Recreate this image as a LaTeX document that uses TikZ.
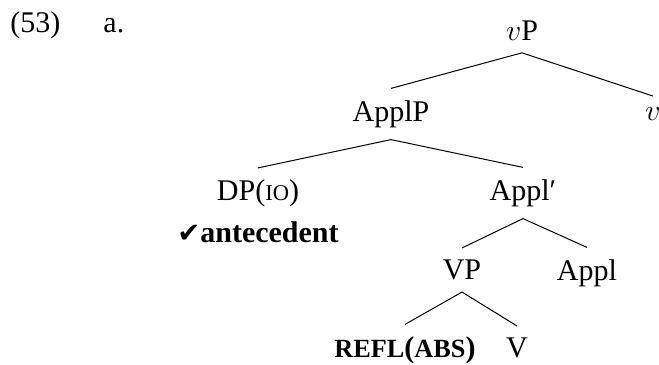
\documentclass[tikz,border=0pt]{standalone}
\usepackage{fontspec}
\setmainfont{Liberation Serif}
\newfontfamily\checkfont{DejaVu Sans}
\usetikzlibrary{positioning}
\newcommand{\fakesc}[1]{{\fontsize{9pt}{9pt}\selectfont #1}}
\newcommand{\fakescbf}[1]{{\fontsize{10.5pt}{10.5pt}\selectfont\bfseries #1}}
\tikzstyle{treenode} = [inner sep=4.6pt, font=\fontsize{12pt}{14pt}\selectfont]
\tikzstyle{exlabel} = [anchor=base west, inner sep=0pt, font=\fontsize{12pt}{14pt}\selectfont]
\tikzstyle{branch} = [line width=0.4pt]

\begin{document}
\begin{tikzpicture}[node distance=32pt]
	\useasboundingbox (0,0) rectangle (263.6pt,-145.6pt);

	\node (exnum) [exlabel] at (4pt,-12.8pt) {(53)};
	\node (exsub) [exlabel] at (41.2pt,-12.8pt) {a.};

	\node (vp) [treenode] at (208.8pt,-12.4pt) {$v$P};

	\node (applp) [treenode, below of=vp, xshift=-52.4pt, yshift=-1.2pt] {ApplP};
	\node (vhead) [treenode, below of=vp, xshift=52.4pt, yshift=-1.4pt] {$v$};

	\draw [branch] (vp.south) -- (applp.north);
	\draw [branch] (vp.south) -- (vhead.north);

	\node (dp) [treenode, below of=applp, xshift=-53.2pt, yshift=0.2pt] {DP(\fakesc{IO})};
	\node (applbar) [treenode, below of=applp, xshift=52.8pt, yshift=0.4pt] {Appl′};
	\node (ant) [treenode, below of=dp, yshift=16.6pt] {{\checkfont\fontsize{11pt}{11pt}\selectfont ✔}\textbf{antecedent}};

	\draw [branch] (applp.south) -- (dp.north);
	\draw [branch] (applp.south) -- (applbar.north);

	\node (vphr) [treenode, below of=applbar, xshift=-24.4pt, yshift=1.2pt] {VP};
	\node (applhead) [treenode, below of=applbar, xshift=25.6pt] {Appl};

	\draw [branch] (applbar.south) -- (vphr.north);
	\draw [branch] (applbar.south) -- (applhead.north);

	\node (refl) [treenode, below of=vphr, xshift=-22.8pt] {\fakescbf{REFL}\textbf{(}\fakescbf{ABS}\textbf{)}};
	\node (vverb) [treenode, below of=vphr, xshift=22pt, yshift=0.8pt] {V};

	\draw [branch] (vphr.south) -- (refl.north);
	\draw [branch] (vphr.south) -- (vverb.north);
\end{tikzpicture}
\end{document}
